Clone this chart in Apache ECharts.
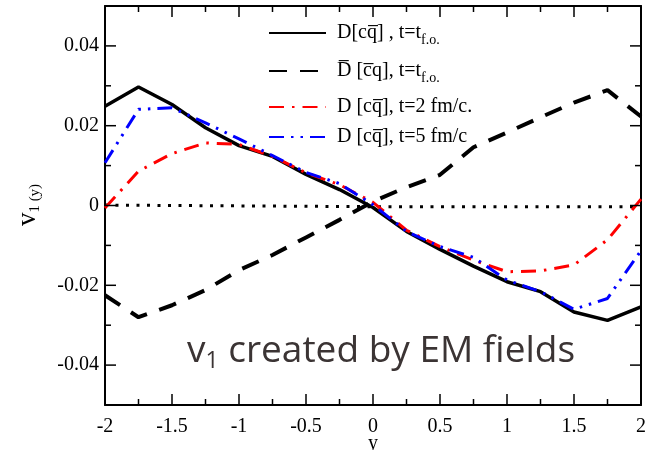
<!DOCTYPE html>
<html>
<head>
<meta charset="utf-8">
<script src="https://cdn.jsdelivr.net/npm/echarts@6/dist/echarts.min.js"></script>
<style>html,body{margin:0;padding:0;background:#fff}#c{width:656px;height:450px}</style>
</head>
<body>
<div id="c"></div>
<script>
// ---- data ----
const yVals = [-2, -1.75, -1.5, -1.25, -1, -0.75, -0.5, -0.25, 0, 0.25, 0.5, 0.75, 1, 1.25, 1.5, 1.75, 2];
const dFO =    [0.0249, 0.0297, 0.0253, 0.0195, 0.0150, 0.0123, 0.0078, 0.0040, -0.0005, -0.0065, -0.0110, -0.0152, -0.0191, -0.0216, -0.0267, -0.0288, -0.0254];
const dbarFO = [-0.0225, -0.0280, -0.0250, -0.0212, -0.0162, -0.0124, -0.0080, -0.0036, 0.0010, 0.0046, 0.0077, 0.0146, 0.0183, 0.0221, 0.0258, 0.0289, 0.0223];
const d2fm =   [-0.0006, 0.0086, 0.0130, 0.0157, 0.0153, 0.0123, 0.0082, 0.0052, 0.0008, -0.0062, -0.0103, -0.0137, -0.0166, -0.0164, -0.0149, -0.0086, 0.0016];
const d5fm =   [0.0107, 0.0241, 0.0245, 0.0207, 0.0167, 0.0125, 0.0083, 0.0055, 0.0002, -0.0065, -0.0103, -0.0130, -0.0187, -0.0216, -0.0260, -0.0233, -0.0113];
const zeroX = [-2, 0, 2];
const zeroV = [0.0001, -0.0003, -0.0003];
const xRange = [-2, 2];
const yRange = [-0.05, 0.05];
const xMajor = [-2, -1.5, -1, -0.5, 0, 0.5, 1, 1.5, 2];
const xMinor = [-1.75, -1.25, -0.75, -0.25, 0.25, 0.75, 1.25, 1.75];
const yMajor = [-0.04, -0.02, 0, 0.02, 0.04];
const yMinor = [-0.03, -0.01, 0.01, 0.03];
const names = ['s1', 's2', 's3', 's4'];
const legendText = {
  s1: '{n|D[cq\u0305] , t=t}{s|f.o.}',
  s2: '{n|D\u0305 [c\u0305q], t=t}{s|f.o.}',
  s3: '{n|D [cq\u0305], t=2 fm/c.}',
  s4: '{n|D [cq\u0305], t=5 fm/c}'
};
const xTitle = 'y';
const yTitle = ['v', '1 (y)'];
const annotation = ['v', '1', ' created by EM fields'];

const pair = (xs, vs) => xs.map((x, i) => [x, vs[i]]);
const serif = '"Liberation Serif", "DejaVu Serif", serif';
const sans = '"Open Sans", "Noto Sans", sans-serif';
const MAJOR_LEN = 11, MINOR_LEN = 6;

const chart = echarts.init(document.getElementById('c'));

const L = () => ({show: true, onZero: false, lineStyle: {color: '#000', width: 2}});
const xAx = (pos, extra) => Object.assign({
  type: 'value', min: xRange[0], max: xRange[1], interval: 0.5, position: pos,
  axisLine: L(), axisTick: {show: false}, axisLabel: {show: false}, splitLine: {show: false}
}, extra || {});
const yAx = (pos, extra) => Object.assign({
  type: 'value', min: yRange[0], max: yRange[1], interval: 0.01, position: pos,
  axisLine: L(), axisTick: {show: false}, axisLabel: {show: false}, splitLine: {show: false}
}, extra || {});

// tick marks drawn through the axis scales (api.coord)
const tickStyle = {stroke: '#000', lineWidth: 1.5};
const xTickData = xMajor.map(v => [v, yRange[0], MAJOR_LEN]).concat(xMinor.map(v => [v, yRange[0], MINOR_LEN]));
const yTickData = yMajor.map(v => [xRange[0], v, MAJOR_LEN]).concat(yMinor.map(v => [xRange[0], v, MINOR_LEN]));
const renderXTick = (params, api) => {
  const v = api.value(0), len = api.value(2);
  const b = api.coord([v, yRange[0]]), t = api.coord([v, yRange[1]]);
  return {type: 'group', children: [
    {type: 'line', shape: {x1: b[0], y1: b[1], x2: b[0], y2: b[1] - len}, style: tickStyle},
    {type: 'line', shape: {x1: t[0], y1: t[1], x2: t[0], y2: t[1] + len}, style: tickStyle}
  ]};
};
const renderYTick = (params, api) => {
  const v = api.value(1), len = api.value(2);
  const l = api.coord([xRange[0], v]), r = api.coord([xRange[1], v]);
  return {type: 'group', children: [
    {type: 'line', shape: {x1: l[0], y1: l[1], x2: l[0] + len, y2: l[1]}, style: tickStyle},
    {type: 'line', shape: {x1: r[0], y1: r[1], x2: r[0] - len, y2: r[1]}, style: tickStyle}
  ]};
};

const legendRich = {
  n: {fontFamily: serif, fontSize: 20, color: '#000'},
  s: {fontFamily: serif, fontSize: 14, color: '#000', padding: [14, 0, 0, 0]}
};
const legendTops = [23, 61, 97, 127];

const option = {
  animation: false,
  grid: {left: 105, right: 15, top: 6, bottom: 45, outerBoundsMode: 'none'},
  xAxis: [
    xAx('bottom', {
      axisLabel: {show: true, margin: 12, fontFamily: serif, fontSize: 20, color: '#000',
        customValues: xMajor, formatter: v => String(v)}
    }),
    xAx('top')
  ],
  yAxis: [
    yAx('left', {
      axisLabel: {show: true, margin: 6, fontFamily: serif, fontSize: 20, color: '#000',
        customValues: yMajor, formatter: v => (Math.abs(v) < 1e-9 ? '0' : v.toFixed(2))}
    }),
    yAx('right')
  ],
  legend: names.map((nm, i) => ({
    data: [nm], left: 268, top: legendTops[i], padding: 0,
    itemWidth: 57, itemHeight: 14, selectedMode: false,
    itemStyle: {color: 'rgba(0,0,0,0)', borderWidth: 0, opacity: 0},
    formatter: n => legendText[n],
    textStyle: {rich: legendRich, padding: [0, 0, 0, 6]}
  })),
  series: [
    {name: 'xticks', type: 'custom', xAxisIndex: 0, yAxisIndex: 0, data: xTickData,
      renderItem: renderXTick, silent: true, clip: false, z: 5},
    {name: 'yticks', type: 'custom', xAxisIndex: 0, yAxisIndex: 0, data: yTickData,
      renderItem: renderYTick, silent: true, clip: false, z: 5},
    {name: 'zero', type: 'line', data: pair(zeroX, zeroV), symbol: 'none', silent: true,
      lineStyle: {color: '#000', width: 3, type: [3, 7.5]}, z: 1},
    {name: 's1', type: 'line', data: pair(yVals, dFO), symbol: 'none',
      lineStyle: {color: '#000', width: 3.5, type: 'solid'}, itemStyle: {color: '#000'}, z: 2},
    {name: 's2', type: 'line', data: pair(yVals, dbarFO), symbol: 'none',
      lineStyle: {color: '#000', width: 4, type: [18, 13]}, itemStyle: {color: '#000'}, z: 2},
    {name: 's3', type: 'line', data: pair(yVals, d2fm), symbol: 'none',
      lineStyle: {color: '#ff0000', width: 3, type: [15, 8, 2.5, 8]}, itemStyle: {color: '#ff0000'}, z: 3},
    {name: 's4', type: 'line', data: pair(yVals, d5fm), symbol: 'none',
      lineStyle: {color: '#0000ff', width: 3, type: [15, 7, 2.5, 7, 2.5, 7]}, itemStyle: {color: '#0000ff'}, z: 4}
  ],
  graphic: [
    {
      type: 'text', left: 368, top: 434, z: 10,
      style: {text: xTitle, fontFamily: serif, fontSize: 20, fill: '#000'}
    },
    {
      type: 'text', x: 28, y: 205, rotation: Math.PI / 2, z: 10,
      style: {
        text: '{v|' + yTitle[0] + '}{s|' + yTitle[1] + '}',
        align: 'center', verticalAlign: 'middle', textAlign: 'center', textVerticalAlign: 'middle',
        rich: {
          v: {fontFamily: serif, fontSize: 27, fill: '#000', color: '#000'},
          s: {fontFamily: serif, fontSize: 15, fill: '#000', color: '#000', padding: [14, 0, 0, 0]}
        }
      }
    },
    {
      type: 'text', left: 187, top: 333, z: 10,
      style: {
        text: '{v|' + annotation[0] + '}{s|' + annotation[1] + '}{v|' + annotation[2] + '}',
        rich: {
          v: {fontFamily: sans, fontSize: 37, fill: '#3b3434', color: '#3b3434'},
          s: {fontFamily: sans, fontSize: 23, fill: '#3b3434', color: '#3b3434', padding: [19, 0, 0, 0]}
        }
      }
    }
  ]
};
chart.setOption(option);
</script>
</body>
</html>
